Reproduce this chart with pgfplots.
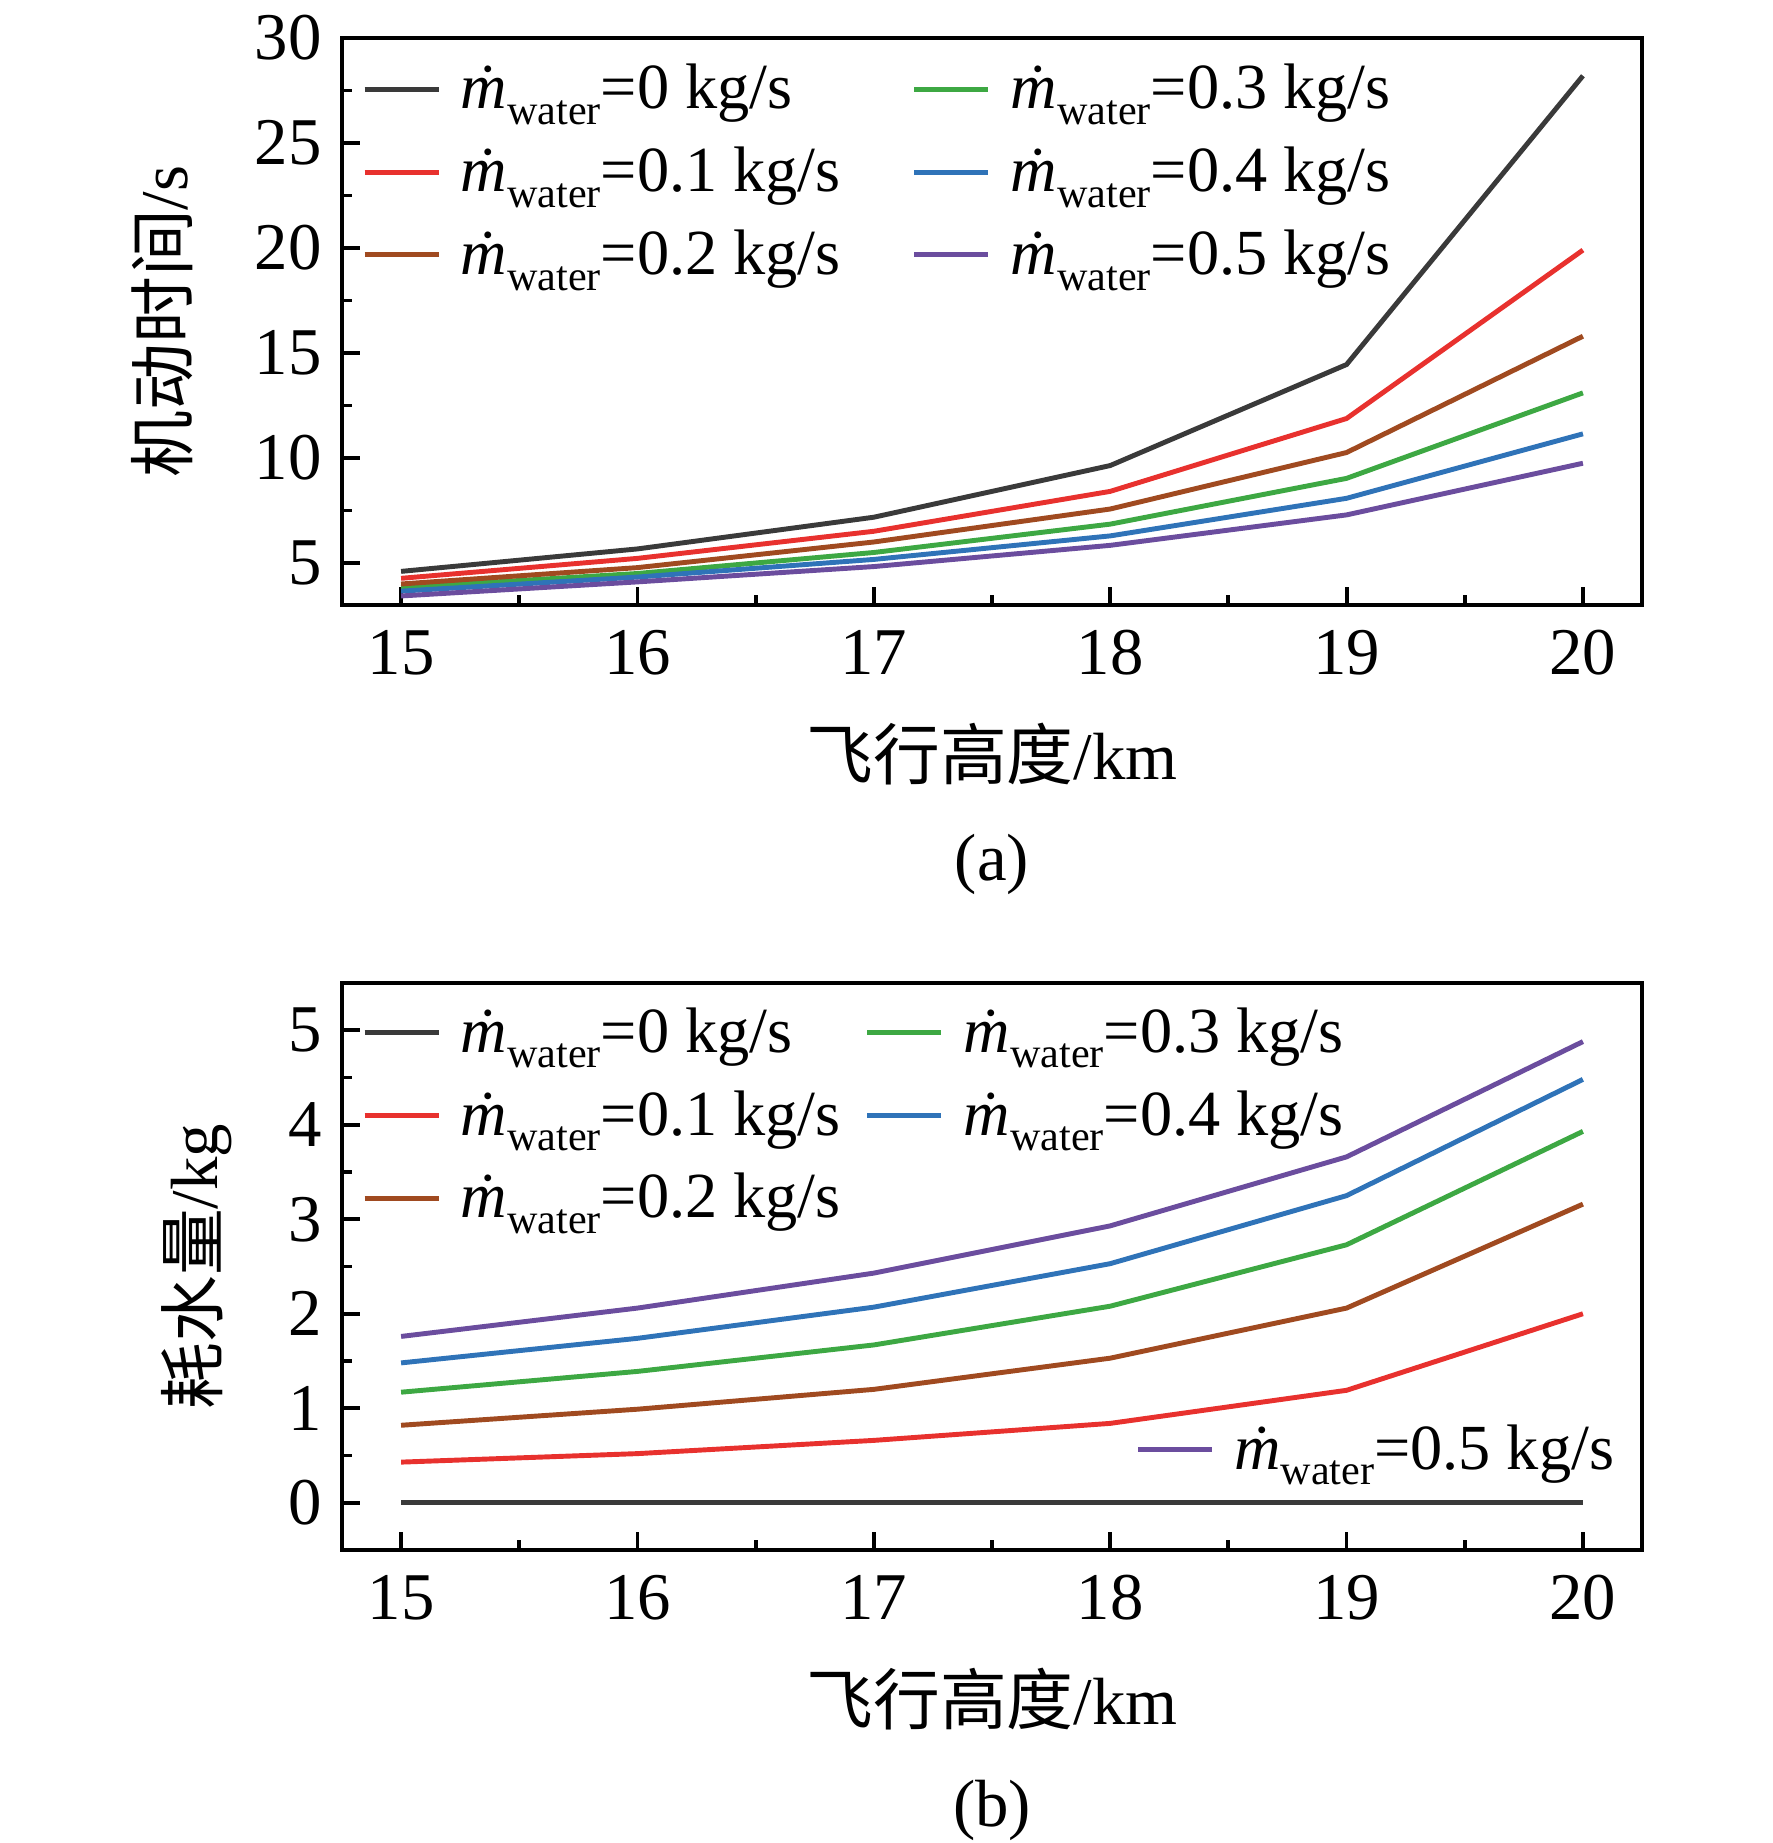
\documentclass[border=0pt]{standalone}
\usepackage{fontspec}
\setmainfont{Liberation Serif}
\newfontfamily\cjk{Noto Sans CJK SC}
\usepackage{pgfplots}
\pgfplotsset{compat=1.18}
\definecolor{c0}{HTML}{3A3A3A}
\definecolor{c1}{HTML}{E8312E}
\definecolor{c2}{HTML}{A04A20}
\definecolor{c3}{HTML}{3DA843}
\definecolor{c4}{HTML}{2F73B8}
\definecolor{c5}{HTML}{6B4D9E}
\newcommand{\mw}[1]{{\itshape\.m}\raisebox{-0.24em}{\fontsize{12}{13}\selectfont water}=#1 kg/s}
\pgfplotsset{myax/.style={
 width=13.0cm, height=5.67cm, scale only axis, clip=false,
 xmin=14.75, xmax=20.25, xtick={15,16,17,18,19,20}, minor x tick num=1,
 tick pos=left, tick align=inside, major tick length=0.18cm, minor tick length=0.1cm,
 every tick/.style={black, line width=1.1pt},
 axis line style={line width=1.1pt},
 ticklabel style={font=\fontsize{19}{22}\selectfont},
 xticklabel style={yshift=-0.13cm},
 yticklabel style={xshift=-0.08cm},
 /pgf/number format/assume math mode=true,
 label style={font=\fontsize{19}{22}\selectfont},
 legend cell align=left,
 legend columns=2,
 legend style={draw=none, fill=none, inner sep=0pt, font=\fontsize{18.3}{21}\selectfont,
   nodes={inner ysep=0pt}, /tikz/row sep=0.33cm,
   /tikz/column 1/.style={column sep=0.125cm},
   /tikz/column 3/.style={column sep=0.13cm}},
 legend image code/.code={\draw[##1, line width=1.4pt] (0cm,0cm) -- (0.74cm,0cm);},
 every axis plot/.append style={line width=1.4pt},
}}
\begin{document}
\begin{tikzpicture}
\path[use as bounding box] (0,0) rectangle (17.72cm,-18.43cm);
\begin{axis}[myax, at={(3.42cm,-0.38cm)}, anchor=north west,
  ymin=3, ymax=30, ytick={5,10,15,20,25,30}, minor y tick num=1,
  xlabel={{\cjk 飞行高度}/km}, ylabel={{\cjk 机动时间}/s},
  xlabel style={at={(axis description cs:0.5,-0.263)}, anchor=center},
  ylabel style={at={(axis description cs:-0.1386,0.5)}, anchor=center},
  legend style={at={(axis description cs:0.015,0.955)}, anchor=north west,
   /tikz/column 2/.style={column sep=0.64cm}}]
\addplot[c0] coordinates {(15,4.6) (16,5.67) (17,7.18) (18,9.64) (19,14.45) (20,28.2)};
\addlegendentry{\mw{0}}
\addplot[c3] coordinates {(15,3.83) (16,4.5) (17,5.5) (18,6.85) (19,9.03) (20,13.1)};
\addlegendentry{\mw{0.3}}
\addplot[c1] coordinates {(15,4.27) (16,5.22) (17,6.51) (18,8.41) (19,11.88) (20,19.9)};
\addlegendentry{\mw{0.1}}
\addplot[c4] coordinates {(15,3.66) (16,4.33) (17,5.17) (18,6.29) (19,8.08) (20,11.15)};
\addlegendentry{\mw{0.4}}
\addplot[c2] coordinates {(15,4.0) (16,4.78) (17,6.0) (18,7.57) (19,10.26) (20,15.8)};
\addlegendentry{\mw{0.2}}
\addplot[c5] coordinates {(15,3.43) (16,4.1) (17,4.83) (18,5.84) (19,7.29) (20,9.75)};
\addlegendentry{\mw{0.5}}
\node[font=\fontsize{19}{22}\selectfont] at (axis description cs:0.5,-0.457) {(a)};
\end{axis}
\begin{axis}[myax, at={(3.42cm,-9.83cm)}, anchor=north west,
  ymin=-0.5, ymax=5.5, ytick={0,1,2,3,4,5}, minor y tick num=1,
  xlabel={{\cjk 飞行高度}/km}, ylabel={{\cjk 耗水量}/kg},
  xlabel style={at={(axis description cs:0.5,-0.263)}, anchor=center},
  ylabel style={at={(axis description cs:-0.112,0.5)}, anchor=center},
  legend style={at={(axis description cs:0.015,0.958)}, anchor=north west,
   /tikz/column 2/.style={column sep=0.17cm}}]
\addplot[c0] coordinates {(15,0) (16,0) (17,0) (18,0) (19,0) (20,0)};
\addlegendentry{\mw{0}}
\addplot[c3] coordinates {(15,1.17) (16,1.39) (17,1.67) (18,2.08) (19,2.73) (20,3.93)};
\addlegendentry{\mw{0.3}}
\addplot[c1] coordinates {(15,0.43) (16,0.52) (17,0.66) (18,0.84) (19,1.19) (20,2.0)};
\addlegendentry{\mw{0.1}}
\addplot[c4] coordinates {(15,1.48) (16,1.74) (17,2.07) (18,2.53) (19,3.25) (20,4.48)};
\addlegendentry{\mw{0.4}}
\addplot[c2] coordinates {(15,0.82) (16,0.99) (17,1.2) (18,1.53) (19,2.06) (20,3.16)};
\addlegendentry{\mw{0.2}}
\node[font=\fontsize{19}{22}\selectfont] at (axis description cs:0.5,-0.460) {(b)};
\end{axis}
\begin{axis}[myax, at={(3.42cm,-9.83cm)}, anchor=north west, hide axis,
  ymin=-0.5, ymax=5.5,
  legend style={at={(axis description cs:0.610,0.177)}, anchor=west}]
\addplot[c5] coordinates {(15,1.76) (16,2.06) (17,2.43) (18,2.93) (19,3.66) (20,4.88)};
\addlegendentry{\mw{0.5}}
\end{axis}
\end{tikzpicture}
\end{document}
